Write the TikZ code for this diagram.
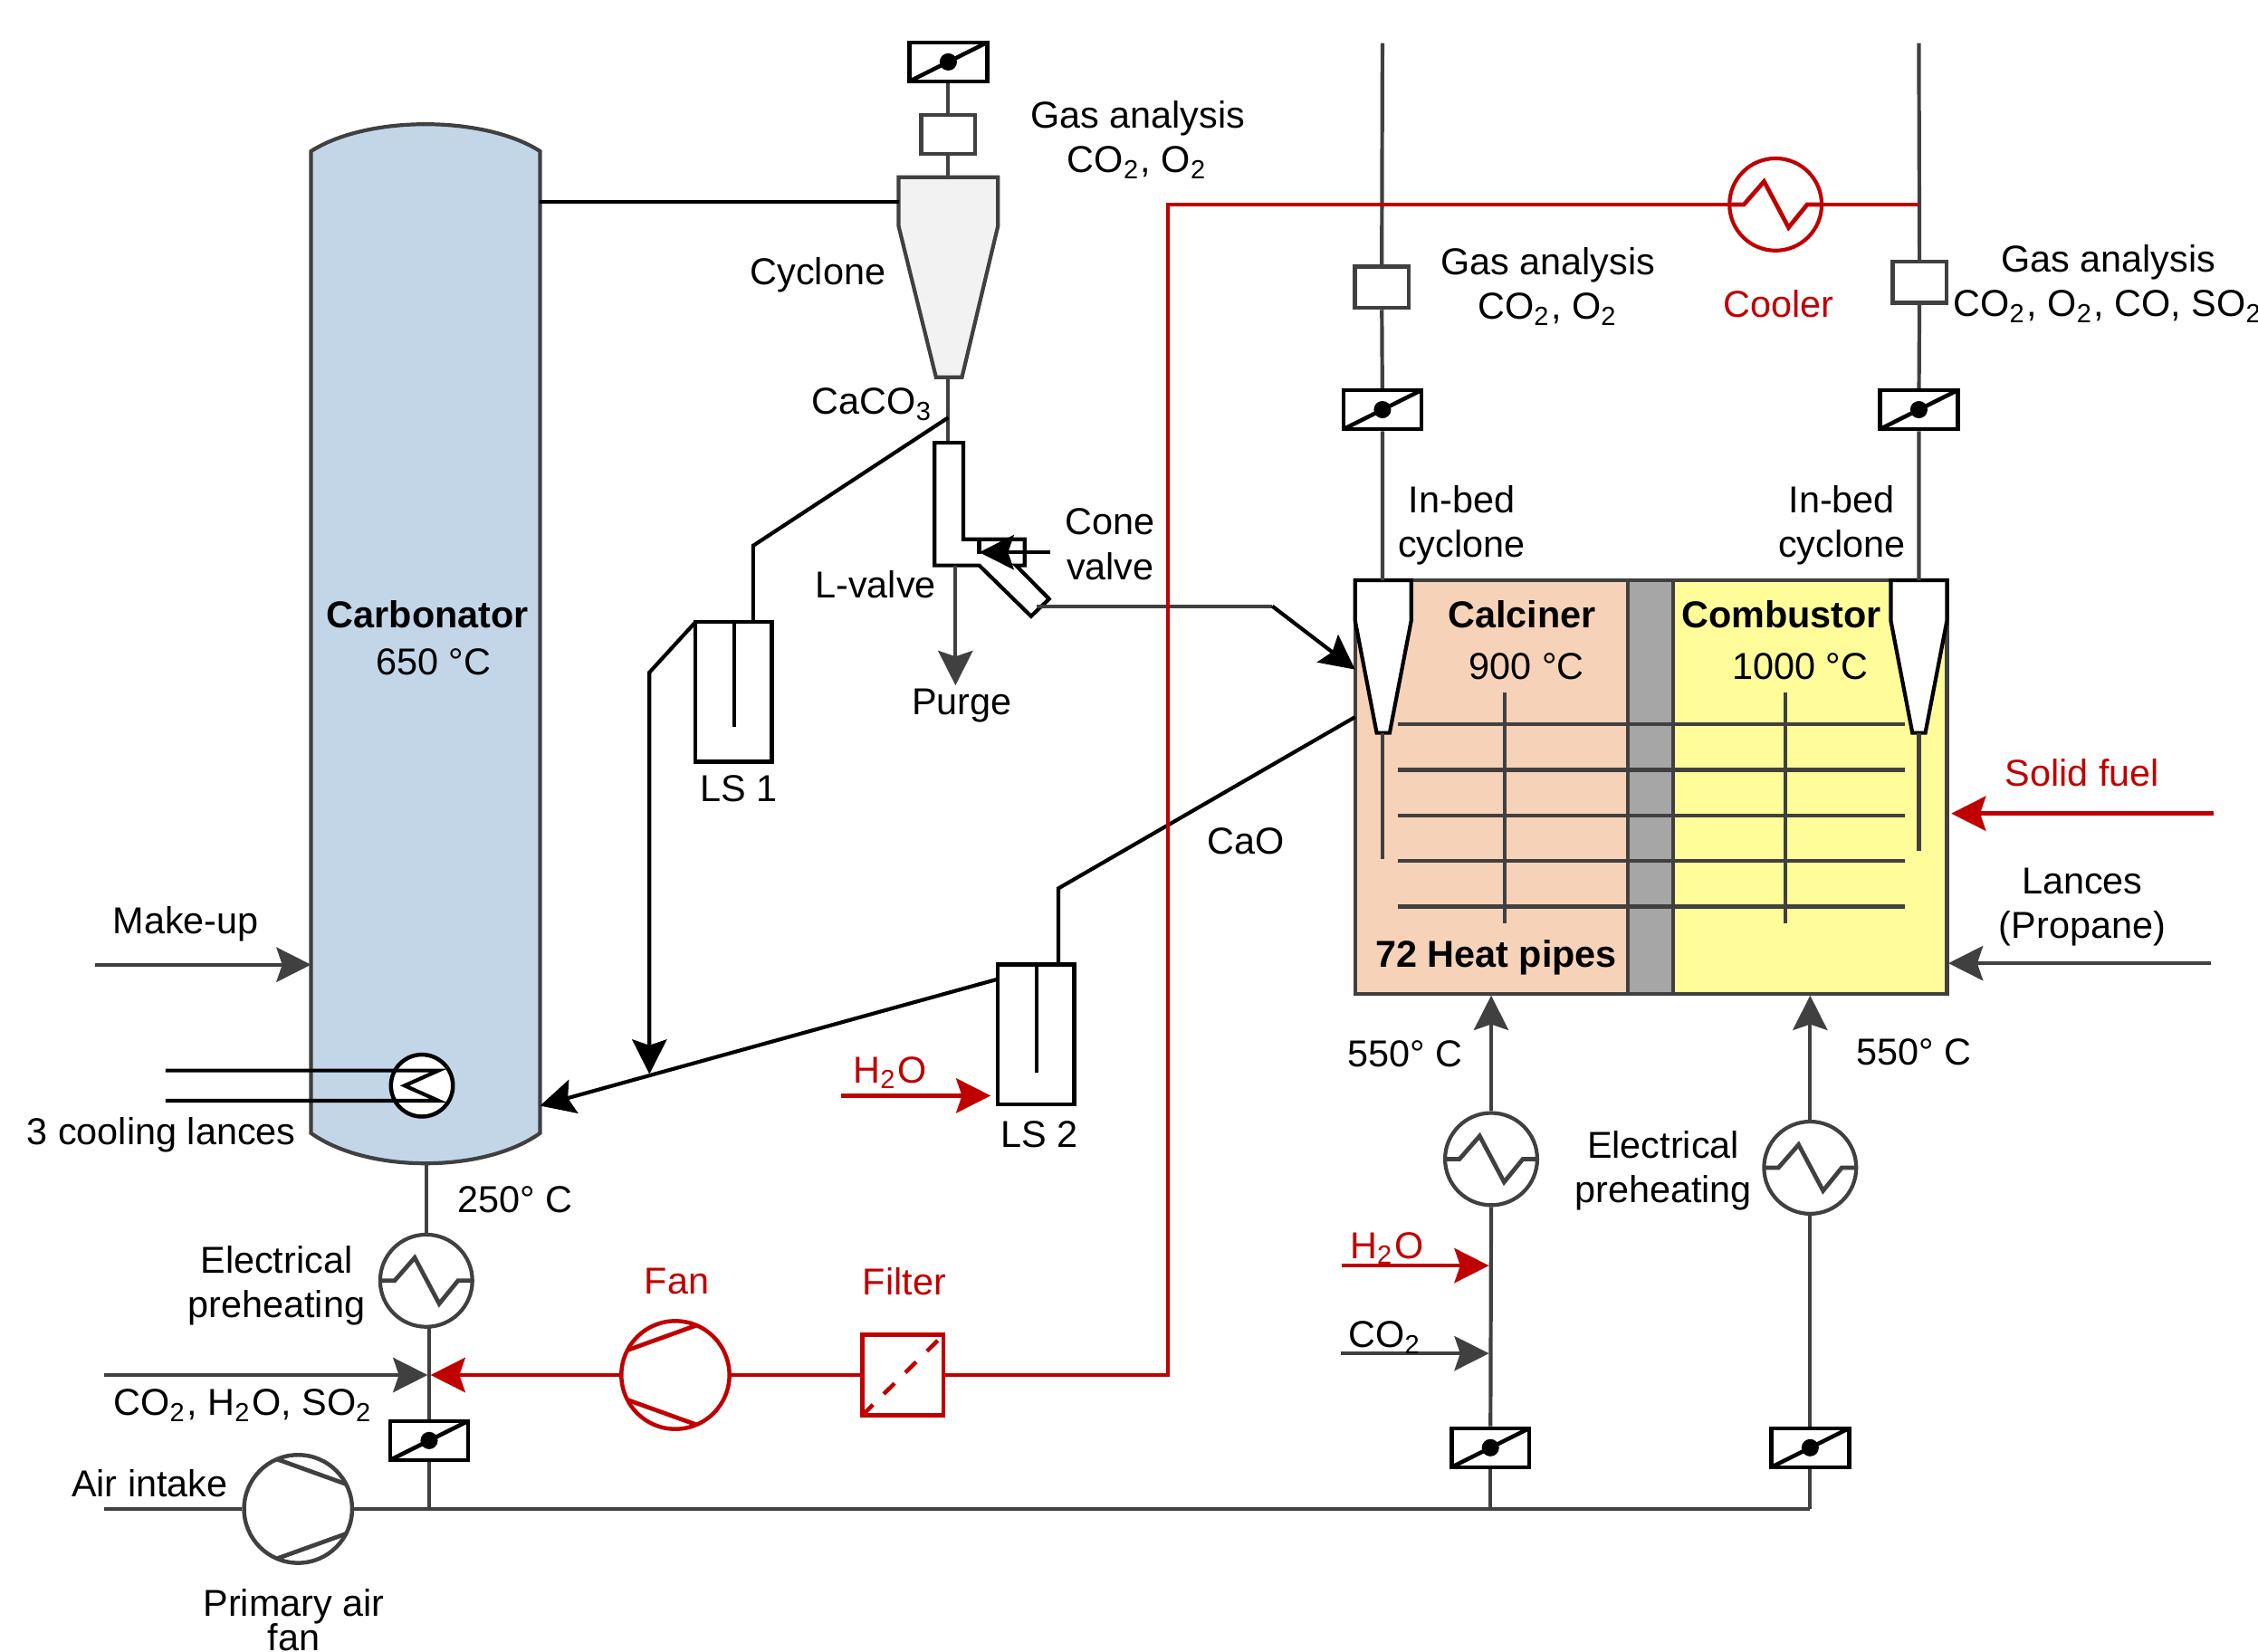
\documentclass[tikz,border=0pt]{standalone}
\usepackage{fontspec}
\setmainfont{Liberation Sans}
\usetikzlibrary{arrows.meta,calc,positioning}
\definecolor{linegray}{HTML}{404040}
\definecolor{pipered}{HTML}{C00000}
\definecolor{carbfill}{HTML}{C3D6E8}
\definecolor{calcfill}{HTML}{F6D3B8}
\definecolor{combfill}{HTML}{FFFC9A}
\definecolor{wallfill}{HTML}{A6A6A6}
\tikzset{
  pipe/.style={draw=linegray,line width=0.75pt},
  blackpipe/.style={draw=black,line width=0.75pt},
  redpipe/.style={draw=pipered,line width=0.8pt},
  flow/.style={-{Stealth[length=2.4mm,width=2.4mm,inset=0.4mm]}},
  lbl/.style={align=center,inner sep=0pt,text=black},
  redlbl/.style={lbl,text=pipered},
  valvebox/.style={rectangle,draw=black,line width=0.8pt,fill=white,minimum width=0.54cm,minimum height=0.27cm,inner sep=0pt,
    path picture={
      \draw[black,line width=0.8pt] (path picture bounding box.south west) -- (path picture bounding box.north east);
      \fill[black] (path picture bounding box.center) circle (0.06cm);
    }},
  gasbox/.style={rectangle,draw=linegray,line width=0.8pt,fill=white,minimum width=0.375cm,minimum height=0.285cm,inner sep=0pt},
  lsbox/.style={rectangle,draw=black,line width=0.8pt,fill=white,minimum width=0.53cm,minimum height=0.97cm,inner sep=0pt},
  heater/.style={circle,draw=linegray,line width=0.75pt,fill=white,minimum size=0.64cm,inner sep=0pt,
    path picture={
      \draw[#1,line width=0.85pt,shift={(path picture bounding box.center)}]
        (-32,0) -- (-22,0) -- (-8,-16) -- (9,16) -- (22,0) -- (32,0);
    }},
  heater/.default=linegray,
  fanright/.style={circle,draw=#1,line width=0.8pt,fill=white,minimum size=0.75cm,inner sep=0pt,
    path picture={
      \draw[#1,line width=0.85pt,shift={(path picture bounding box.center)}]
        (-34,-17) -- (16,-35) (-34,17) -- (16,35);
    }},
  fanleft/.style={circle,draw=#1,line width=0.8pt,fill=white,minimum size=0.75cm,inner sep=0pt,
    path picture={
      \draw[#1,line width=0.85pt,shift={(path picture bounding box.center)}]
        (-16,-35) -- (34,-17) (-16,35) -- (34,17);
    }},
  every node/.style={font=\fontsize{7.4}{8.8}\selectfont}
}
\begin{document}
\begin{tikzpicture}[x=0.01cm,y=-0.01cm]
  \useasboundingbox (0,0) rectangle (1568,1147);
  \clip (0,0) rectangle (1568,1147);

  \draw[pipe,fill=carbfill] (216,105) .. controls (255,80) and (336,80) .. (375,105) -- (375,787)
    .. controls (336,815) and (255,815) .. (216,787) -- cycle;
  \node[lbl] (carbName) at (297,427) {\textbf{Carbonator}};
  \node[lbl] (carbTemp) at (301,460) {650 °C};
  \coordinate (carbOut) at (375,140);
  \coordinate (carbBottom) at (296,808);
  \coordinate (carbIn) at (216,670);
  \coordinate (carbReturn) at (375,768);

  \node[rectangle,pipe,fill=calcfill,minimum width=1.895cm,minimum height=2.87cm,inner sep=0pt] (calciner) at (1035.75,546.5) {};
  \node[rectangle,pipe,fill=combfill,minimum width=1.9cm,minimum height=2.87cm,inner sep=0pt] (combustor) at (1257,546.5) {};
  \node[rectangle,pipe,fill=wallfill,minimum width=0.315cm,minimum height=2.87cm,inner sep=0pt] (wall) at (1146.25,546.5) {};
  \foreach \y in {503,534.7,566.5,598,629.6}
    \draw[pipe] (971,\y) -- (1322.7,\y);
  \foreach \x in {1045,1240}
    \draw[pipe] (\x,481) -- (\x,641);

  \draw[pipe,fill=black!5] (624,123) -- (693,123) -- (693,157) -- (668,262) -- (650,262) -- (624,157) -- cycle;
  \coordinate (cycIn) at (624,140);
  \coordinate (cycTop) at (658.5,123);
  \coordinate (cycBottom) at (658.5,262);
  \draw[blackpipe,fill=white] (941,403) -- (980,403) -- (980,431) -- (965,509) -- (956,509) -- (941,431) -- cycle;
  \draw[blackpipe,fill=white] (1313,403) -- (1352,403) -- (1352,431) -- (1337,509) -- (1328,509) -- (1313,431) -- cycle;

  \node[valvebox] (valveCyc) at (658.5,43) {};
  \node[gasbox,minimum height=0.27cm] (gasCyc) at (658.5,93.5) {};
  \node[gasbox] (gasCal) at (959.5,199.5) {};
  \node[gasbox] (gasCom) at (1333,196) {};
  \node[valvebox] (valveCal) at (960,284.5) {};
  \node[valvebox] (valveCom) at (1332.5,284.5) {};
  \node[lsbox] (lsOne) at (509.5,480.5) {};
  \node[lsbox] (lsTwo) at (719.5,718.5) {};
  \node[heater] (heatCarb) at (296,889.5) {};
  \node[heater] (heatCal) at (1035.5,805) {};
  \node[heater] (heatCom) at (1257,811) {};
  \node[heater=pipered,draw=pipered] (cooler) at (1233,142) {};
  \node[fanright=pipered] (fanRed) at (469,955) {};
  \node[fanleft=linegray] (fanAir) at (207,1048) {};
  \node[valvebox] (valveCarb) at (298,1000.5) {};
  \node[valvebox] (valveHeatCal) at (1035,1005.5) {};
  \node[valvebox] (valveHeatCom) at (1257,1005.5) {};
  \node[rectangle,draw=pipered,line width=0.8pt,fill=white,minimum width=0.565cm,minimum height=0.56cm,inner sep=0pt,
    path picture={\draw[pipered,line width=0.8pt,dashed] (path picture bounding box.south west) -- (path picture bounding box.north east);}] (filter) at (627,955) {};

  \draw[blackpipe] (carbOut) -- (cycIn);
  \draw[pipe] (valveCyc) -- (gasCyc) -- (cycTop);
  \coordinate (lvTop) at (658.5,307.5);
  \draw[pipe] (cycBottom) -- (lvTop);
  \coordinate (cacoTap) at (658.5,290);
  \coordinate (lsOneBend) at (523,379);
  \coordinate (lsOneIn) at (523,432);
  \draw[blackpipe] (cacoTap) -- (lsOneBend) -- (lsOneIn);
  \draw[blackpipe] (510,432) -- (510,505);
  \coordinate (lsOneOut) at (483,432);
  \coordinate (lsOneBend2) at (451,467);
  \coordinate (dropTip) at (451,746);
  \draw[blackpipe,flow] (lsOneOut) -- (lsOneBend2) -- (dropTip);

  \draw[blackpipe] (649,392.7) -- (649,307.5) -- (669,307.5) -- (669,374.5) -- (711.5,374.5) -- (711.5,392.7) -- (705.5,392.7)
    -- (728.5,416) -- (716,428) -- (680,392.7) -- cycle;
  \draw[blackpipe,dashed,fill=white] (680,374.5) -- (680,392.7);
  \coordinate (coneIn) at (729,383.6);
  \coordinate (coneTip) at (680,383.6);
  \draw[blackpipe,flow] (coneIn) -- (coneTip);
  \coordinate (purgeTop) at (663.5,392.7);
  \coordinate (purgeTip) at (663.5,476);
  \draw[pipe,flow] (purgeTop) -- (purgeTip);
  \coordinate (coneOut) at (720,421);
  \coordinate (coneBend) at (883.5,421);
  \coordinate (coneEnd) at (941,465);
  \draw[pipe] (coneOut) -- (coneBend);
  \draw[blackpipe,flow] (coneBend) -- (coneEnd);

  \coordinate (caoOut) at (941,498);
  \coordinate (caoBend) at (735,617);
  \coordinate (lsTwoIn) at (735,670);
  \draw[blackpipe] (caoOut) -- (caoBend) -- (lsTwoIn);
  \draw[blackpipe] (720,670) -- (720,745);
  \coordinate (lsTwoOut) at (693,680);
  \draw[blackpipe,flow] (lsTwoOut) -- (carbReturn);

  \coordinate (makeupIn) at (66,670);
  \draw[pipe,flow] (makeupIn) -- (carbIn);

  \coordinate (lanceTop) at (115,743.5);
  \coordinate (lanceBottom) at (115,764.5);
  \node[circle,draw=black,line width=0.8pt,fill=white,minimum size=0.43cm,inner sep=0pt] (lanceHx) at (293,754) {};
  \draw[blackpipe] (lanceTop) -- (304.5,743.5) -- (281,754) -- (304.5,764.5) -- (lanceBottom);

  \draw[pipe] (carbBottom) -- (heatCarb.north);
  \coordinate (mixTop) at (298,921.5);
  \coordinate (airJoin) at (298,1048);
  \draw[pipe] (mixTop) -- (valveCarb) -- (airJoin);
  \coordinate (airIn) at (72,1048);
  \coordinate (airEnd) at (1257,1048);
  \draw[pipe] (airIn) -- (fanAir.west);
  \draw[pipe] (fanAir.east) -- (airEnd);
  \draw[pipe] (valveHeatCal) -- (valveHeatCal |- airEnd);
  \draw[pipe] (valveHeatCom) -- (airEnd);
  \draw[pipe] (valveHeatCal) -- (heatCal.south);
  \draw[pipe] (valveHeatCom) -- (heatCom.south);
  \draw[pipe,flow] (heatCal.north) -- (heatCal.north |- calciner.south);
  \draw[pipe,flow] (heatCom.north) -- (heatCom.north |- combustor.south);

  \coordinate (gasIn) at (72,955);
  \coordinate (gasTip) at (297,955);
  \draw[pipe,flow] (gasIn) -- (gasTip);
  \coordinate (coTwoIn) at (931,940);
  \coordinate (coTwoTip) at (1034,940);
  \draw[pipe,flow] (coTwoIn) -- (coTwoTip);
  \coordinate (lanceIn) at (1535,669);
  \coordinate (lanceTip) at (1353,669);
  \draw[pipe,flow] (lanceIn) -- (lanceTip);

  \coordinate (stackCal) at (960,30);
  \coordinate (stackCom) at (1332.5,30);
  \coordinate (calIn) at (960,403);
  \coordinate (comIn) at (1332.5,403);
  \draw[pipe] (stackCal) -- (gasCal) -- (valveCal) -- (calIn);
  \draw[pipe] (stackCom) -- (gasCom) -- (valveCom) -- (comIn);
  \draw[pipe] (960,509) -- (960,596.5);
  \draw[pipe] (1332.5,509) -- (1332.5,591);

  \coordinate (redCorner) at (811,955);
  \coordinate (redTop) at (811,142);
  \coordinate (redEnd) at (1332.5,142);
  \draw[redpipe] (filter.east) -- (redCorner) -- (redTop) -- (cooler.west);
  \draw[redpipe] (cooler.east) -- (redEnd);
  \draw[redpipe] (fanRed.east) -- (filter.west);
  \coordinate (redTip) at (299,955);
  \draw[redpipe,flow] (fanRed.west) -- (redTip);
  \coordinate (fuelIn) at (1537,565);
  \coordinate (fuelTip) at (1355,565);
  \draw[redpipe,flow] (fuelIn) -- (fuelTip);
  \coordinate (waterTwoIn) at (584,761);
  \coordinate (waterTwoTip) at (688,761);
  \draw[redpipe,flow] (waterTwoIn) -- (waterTwoTip);
  \coordinate (waterCalIn) at (932,879);
  \coordinate (waterCalTip) at (1034,879);
  \draw[redpipe,flow] (waterCalIn) -- (waterCalTip);

  \node[lbl] (lblGasCyc) at (790,97) {Gas analysis\\CO\textsubscript{2}, O\textsubscript{2}};
  \node[lbl] (lblCyclone) at (568,191) {Cyclone};
  \node[lbl] (lblCaco) at (606,281) {CaCO\textsubscript{3}};
  \node[lbl] (lblCone) at (771,378) {Cone\\valve};
  \node[lbl] (lblLvalve) at (608,406) {L-valve};
  \node[lbl] (lblPurge) at (668,490) {Purge};
  \node[lbl] (lblGasCal) at (1075,199) {Gas analysis\\CO\textsubscript{2}, O\textsubscript{2}};
  \node[lbl] (lblGasCom) at (1464,197) {Gas analysis\\CO\textsubscript{2}, O\textsubscript{2}, CO, SO\textsubscript{2}};
  \node[redlbl] (lblCooler) at (1235,211) {Cooler};
  \node[lbl] (lblBedCal) at (1015,365) {In-bed\\cyclone};
  \node[lbl] (lblBedCom) at (1279,365) {In-bed\\cyclone};
  \node[lbl] (lblCalciner) at (1057,427) {\textbf{Calciner}};
  \node[lbl] (lblCalTemp) at (1060,463) {900 °C};
  \node[lbl] (lblCombustor) at (1237,427) {\textbf{Combustor}};
  \node[lbl] (lblComTemp) at (1250,463) {1000 °C};
  \node[lbl] (lblPipes) at (1039,665) {\textbf{72 Heat pipes}};
  \node[redlbl] (lblFuel) at (1446,537) {Solid fuel};
  \node[lbl] (lblLances) at (1446,630) {Lances\\(Propane)};
  \node[lbl] (lblCao) at (865,584) {CaO};
  \node[lbl] (lblMakeup) at (129,642) {Make-up};
  \node[lbl] (lblCooling) at (112,788) {3 cooling lances};
  \node[lbl] (lblLsOne) at (513,548) {LS 1};
  \node[lbl] (lblLsTwo) at (722,788) {LS 2};
  \node[redlbl] (lblWaterTwo) at (618,745) {H\textsubscript{2}O};
  \node[lbl] (lblCarbOut) at (358,833) {250° C};
  \node[lbl] (lblPreCarb) at (192,893) {Electrical\\preheating};
  \node[redlbl] (lblFan) at (470,890) {Fan};
  \node[redlbl] (lblFilter) at (628,890) {Filter};
  \node[lbl] (lblGasIn) at (169,976) {CO\textsubscript{2}, H\textsubscript{2}O, SO\textsubscript{2}};
  \node[lbl] (lblAir) at (104,1030) {Air intake};
  \node[lbl] (lblAirFan) at (204,1125) {Primary air\\[-2pt]fan};
  \node[lbl] (lblTempCal) at (976,732) {550° C};
  \node[lbl] (lblTempCom) at (1329,731) {550° C};
  \node[lbl] (lblPreCal) at (1155,813) {Electrical\\preheating};
  \node[redlbl] (lblWaterCal) at (963,867) {H\textsubscript{2}O};
  \node[lbl] (lblCoTwo) at (962,929) {CO\textsubscript{2}};
\end{tikzpicture}
\end{document}
